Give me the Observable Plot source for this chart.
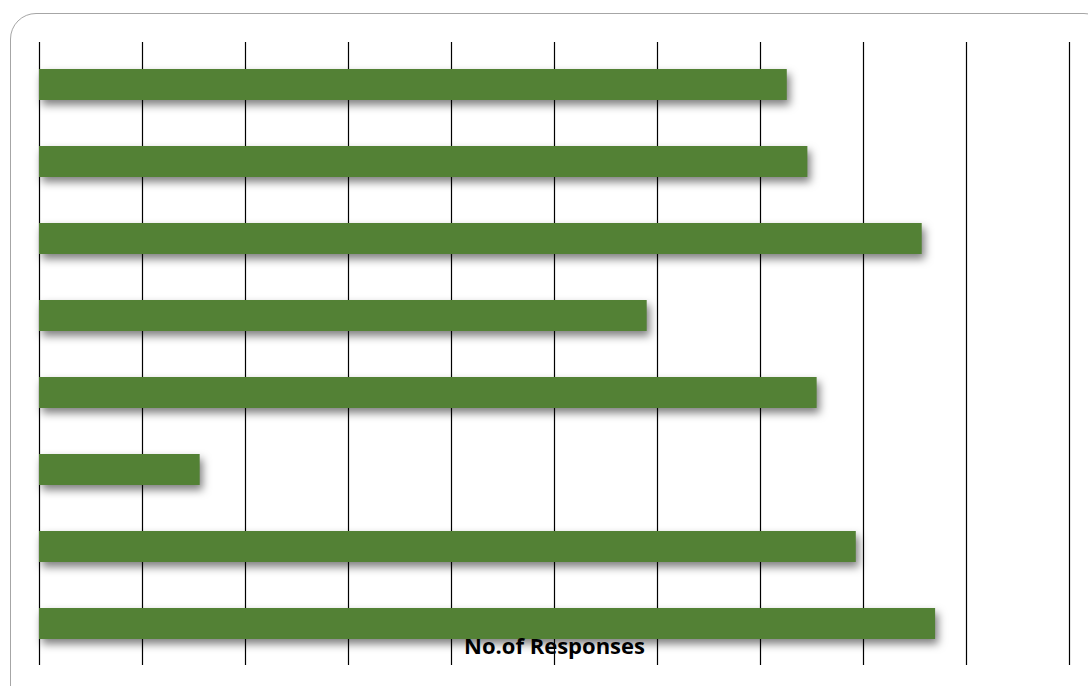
<!DOCTYPE html>
<html>
<head>
<meta charset="utf-8">
<script src="https://cdn.jsdelivr.net/npm/d3@7"></script>
<script src="https://cdn.jsdelivr.net/npm/@observablehq/plot@0.6"></script>
<style>
  html, body { margin: 0; padding: 0; background: #fff; overflow: hidden; }
  #wrap { position: relative; width: 1088px; height: 686px; }
  #frame {
    position: absolute; left: 10px; top: 13px; width: 1100px; height: 700px;
    border: 1px solid #a6a6a6; border-radius: 26px; box-sizing: border-box;
  }
  #chart { position: absolute; left: 0; top: 0; }
  #chart g[aria-label="bar"] { filter: drop-shadow(3px 5px 4px rgba(0,0,0,0.5)); }
</style>
</head>
<body>
<div id="wrap"><div id="frame"></div><div id="chart"></div></div>
<script>
const categories = ["Item 1", "Item 2", "Item 3", "Item 4", "Item 5", "Item 6", "Item 7", "Item 8"];
const responses = [72.6, 74.6, 85.7, 59.0, 75.5, 15.6, 79.3, 87.0];
const xTicks = [0, 10, 20, 30, 40, 50, 60, 70, 80, 90, 100];
const axisLabel = ["No.of Responses"];

const data = categories.map((c, i) => ({category: c, value: responses[i]}));

const chart = Plot.plot({
  width: 1088,
  height: 686,
  marginLeft: 39,
  marginRight: 19,
  marginTop: 42,
  marginBottom: 21,
  style: {background: "transparent"},
  x: {domain: [0, 100], axis: null},
  y: {domain: categories, padding: 0, axis: null},
  marks: [
    Plot.ruleX(xTicks, {stroke: "#000", strokeWidth: 1.2}),
    Plot.barX(data, {y: "category", x: "value", fill: "#538135", insetTop: 23, insetBottom: 23}),
    Plot.text(axisLabel, {
      text: d => d, frameAnchor: "bottom", lineAnchor: "bottom", dy: -12,
      fontFamily: "Open Sans", fontWeight: "bold", fontSize: 22, fill: "#000"
    })
  ]
});
document.getElementById("chart").appendChild(chart);
</script>
</body>
</html>
